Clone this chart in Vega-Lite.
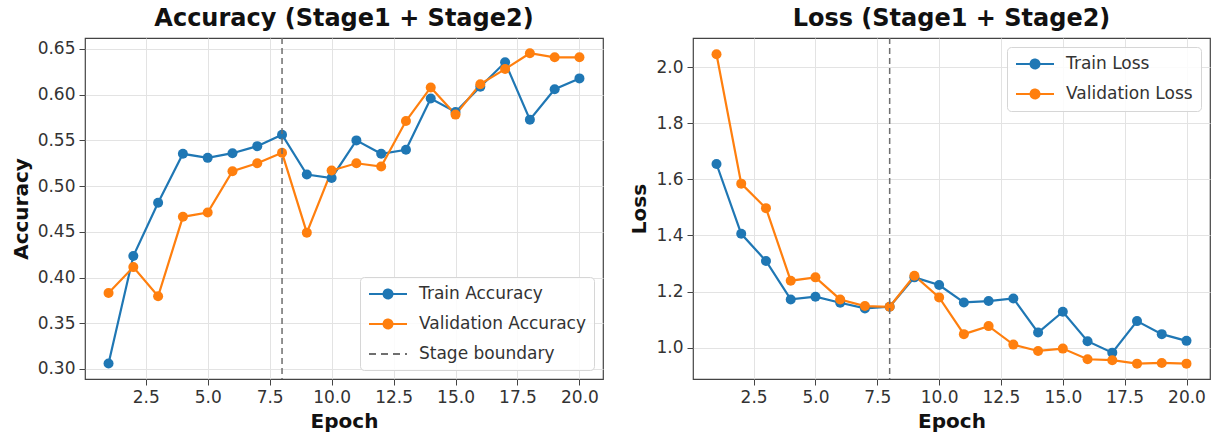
{
  "$schema": "https://vega.github.io/schema/vega-lite/v6.json",
  "padding": {"left": 10, "top": 6, "right": 0, "bottom": 0},
  "background": "white",
  "spacing": 25,
  "config": {
    "font": "DejaVu Sans",
    "view": {"stroke": "#444", "strokeWidth": 1.2},
    "axis": {"grid": true, "gridColor": "#e3e3e3", "gridWidth": 1, "domain": false, "ticks": true, "tickColor": "#444", "tickSize": 6, "tickWidth": 1, "labelFontSize": 17, "labelColor": "#333", "labelPadding": 4, "titleFontSize": 20, "titleFontWeight": "bold", "titleColor": "#111", "titlePadding": 6, "labelFont": "DejaVu Sans", "titleFont": "DejaVu Sans"},
    "title": {"fontSize": 24, "fontWeight": "bold", "color": "#111", "offset": 6, "font": "DejaVu Sans", "anchor": "middle"},
    "legend": {"title": null, "labelFontSize": 17, "labelColor": "#333", "labelFont": "DejaVu Sans", "labelOffset": 33, "rowPadding": 12, "padding": 8, "strokeColor": "#d6d6d6", "fillColor": "rgba(255,255,255,0.85)", "cornerRadius": 4, "labelLimit": 400, "symbolSize": 256, "symbolStrokeWidth": 2,
      "symbolType": "M-1,0L3.75,0M0.815,0A0.56,0.56,0,1,0,1.935,0A0.56,0.56,0,1,0,0.815,0M1.005,0A0.37,0.37,0,1,0,1.745,0A0.37,0.37,0,1,0,1.005,0M1.195,0A0.18,0.18,0,1,0,1.555,0A0.18,0.18,0,1,0,1.195,0"}
  },
  "datasets": {
    "acc": [
      {"epoch": 1, "series": "Train Accuracy", "value": 0.306},
      {"epoch": 2, "series": "Train Accuracy", "value": 0.4235},
      {"epoch": 3, "series": "Train Accuracy", "value": 0.4818},
      {"epoch": 4, "series": "Train Accuracy", "value": 0.5353},
      {"epoch": 5, "series": "Train Accuracy", "value": 0.5309},
      {"epoch": 6, "series": "Train Accuracy", "value": 0.536},
      {"epoch": 7, "series": "Train Accuracy", "value": 0.5437},
      {"epoch": 8, "series": "Train Accuracy", "value": 0.5562},
      {"epoch": 9, "series": "Train Accuracy", "value": 0.5126},
      {"epoch": 10, "series": "Train Accuracy", "value": 0.5089},
      {"epoch": 11, "series": "Train Accuracy", "value": 0.55},
      {"epoch": 12, "series": "Train Accuracy", "value": 0.5353},
      {"epoch": 13, "series": "Train Accuracy", "value": 0.5397},
      {"epoch": 14, "series": "Train Accuracy", "value": 0.5958},
      {"epoch": 15, "series": "Train Accuracy", "value": 0.5811},
      {"epoch": 16, "series": "Train Accuracy", "value": 0.6086},
      {"epoch": 17, "series": "Train Accuracy", "value": 0.6354},
      {"epoch": 18, "series": "Train Accuracy", "value": 0.5727},
      {"epoch": 19, "series": "Train Accuracy", "value": 0.606},
      {"epoch": 20, "series": "Train Accuracy", "value": 0.6178},
      {"epoch": 1, "series": "Validation Accuracy", "value": 0.3831},
      {"epoch": 2, "series": "Validation Accuracy", "value": 0.4114},
      {"epoch": 3, "series": "Validation Accuracy", "value": 0.3795},
      {"epoch": 4, "series": "Validation Accuracy", "value": 0.4664},
      {"epoch": 5, "series": "Validation Accuracy", "value": 0.4711},
      {"epoch": 6, "series": "Validation Accuracy", "value": 0.5162},
      {"epoch": 7, "series": "Validation Accuracy", "value": 0.525},
      {"epoch": 8, "series": "Validation Accuracy", "value": 0.5364},
      {"epoch": 9, "series": "Validation Accuracy", "value": 0.4491},
      {"epoch": 10, "series": "Validation Accuracy", "value": 0.517},
      {"epoch": 11, "series": "Validation Accuracy", "value": 0.525},
      {"epoch": 12, "series": "Validation Accuracy", "value": 0.5214},
      {"epoch": 13, "series": "Validation Accuracy", "value": 0.5712},
      {"epoch": 14, "series": "Validation Accuracy", "value": 0.6079},
      {"epoch": 15, "series": "Validation Accuracy", "value": 0.5782},
      {"epoch": 16, "series": "Validation Accuracy", "value": 0.6115},
      {"epoch": 17, "series": "Validation Accuracy", "value": 0.628},
      {"epoch": 18, "series": "Validation Accuracy", "value": 0.6453},
      {"epoch": 19, "series": "Validation Accuracy", "value": 0.6409},
      {"epoch": 20, "series": "Validation Accuracy", "value": 0.6409}
    ],
    "loss": [
      {"epoch": 1, "series": "Train Loss", "value": 1.6547},
      {"epoch": 2, "series": "Train Loss", "value": 1.4057},
      {"epoch": 3, "series": "Train Loss", "value": 1.309},
      {"epoch": 4, "series": "Train Loss", "value": 1.1717},
      {"epoch": 5, "series": "Train Loss", "value": 1.1814},
      {"epoch": 6, "series": "Train Loss", "value": 1.16},
      {"epoch": 7, "series": "Train Loss", "value": 1.1397},
      {"epoch": 8, "series": "Train Loss", "value": 1.1456},
      {"epoch": 9, "series": "Train Loss", "value": 1.2505},
      {"epoch": 10, "series": "Train Loss", "value": 1.2232},
      {"epoch": 11, "series": "Train Loss", "value": 1.161},
      {"epoch": 12, "series": "Train Loss", "value": 1.166},
      {"epoch": 13, "series": "Train Loss", "value": 1.1753},
      {"epoch": 14, "series": "Train Loss", "value": 1.0537},
      {"epoch": 15, "series": "Train Loss", "value": 1.1277},
      {"epoch": 16, "series": "Train Loss", "value": 1.0229},
      {"epoch": 17, "series": "Train Loss", "value": 0.982},
      {"epoch": 18, "series": "Train Loss", "value": 1.0945},
      {"epoch": 19, "series": "Train Loss", "value": 1.048},
      {"epoch": 20, "series": "Train Loss", "value": 1.024},
      {"epoch": 1, "series": "Validation Loss", "value": 2.046},
      {"epoch": 2, "series": "Validation Loss", "value": 1.5846},
      {"epoch": 3, "series": "Validation Loss", "value": 1.4973},
      {"epoch": 4, "series": "Validation Loss", "value": 1.2386},
      {"epoch": 5, "series": "Validation Loss", "value": 1.2505},
      {"epoch": 6, "series": "Validation Loss", "value": 1.1717},
      {"epoch": 7, "series": "Validation Loss", "value": 1.148},
      {"epoch": 8, "series": "Validation Loss", "value": 1.1456},
      {"epoch": 9, "series": "Validation Loss", "value": 1.2565},
      {"epoch": 10, "series": "Validation Loss", "value": 1.179},
      {"epoch": 11, "series": "Validation Loss", "value": 1.048},
      {"epoch": 12, "series": "Validation Loss", "value": 1.0766},
      {"epoch": 13, "series": "Validation Loss", "value": 1.0107},
      {"epoch": 14, "series": "Validation Loss", "value": 0.988},
      {"epoch": 15, "series": "Validation Loss", "value": 0.9964},
      {"epoch": 16, "series": "Validation Loss", "value": 0.9585},
      {"epoch": 17, "series": "Validation Loss", "value": 0.955},
      {"epoch": 18, "series": "Validation Loss", "value": 0.9428},
      {"epoch": 19, "series": "Validation Loss", "value": 0.9453},
      {"epoch": 20, "series": "Validation Loss", "value": 0.9428}
    ]
  },
  "hconcat": [
    {
      "width": 518,
      "height": 341,
      "title": "Accuracy (Stage1 + Stage2)",
      "layer": [
        {
          "data": {"name": "acc"},
          "mark": {"type": "line", "strokeWidth": 2.2, "point": {"filled": true, "size": 100}},
          "encoding": {
            "x": {"field": "epoch", "type": "quantitative", "scale": {"domain": [0.05, 20.95], "nice": false, "zero": false}, "axis": {"values": [2.5, 5, 7.5, 10, 12.5, 15, 17.5, 20], "format": ".1f", "title": "Epoch", "labelFlush": false}},
            "y": {"field": "value", "type": "quantitative", "scale": {"domain": [0.289, 0.662], "nice": false, "zero": false}, "axis": {"values": [0.3, 0.35, 0.4, 0.45, 0.5, 0.55, 0.6, 0.65], "format": ".2f", "title": "Accuracy", "labelFlush": false}},
            "color": {"field": "series", "type": "nominal", "scale": {"domain": ["Train Accuracy", "Validation Accuracy", "Stage boundary"], "range": ["#1f77b4", "#ff7f0e", "#6f6f6f"]},
              "legend": {"orient": "bottom-right", "offset": 9,
                "encode": {"symbols": {"update": {
                  "shape": [{"test": "datum.value === 'Stage boundary'", "value": "M-1,0L3.75,0"}, {"value": "M-1,0L3.75,0M0.815,0A0.56,0.56,0,1,0,1.935,0A0.56,0.56,0,1,0,0.815,0M1.005,0A0.37,0.37,0,1,0,1.745,0A0.37,0.37,0,1,0,1.005,0M1.195,0A0.18,0.18,0,1,0,1.555,0A0.18,0.18,0,1,0,1.195,0"}],
                  "strokeDash": [{"test": "datum.value === 'Stage boundary'", "value": [7, 5]}, {"value": [1, 0]}],
                  "strokeWidth": {"value": 2}
                }}}}}
          }
        },
        {
          "data": {"values": [{"epoch": 8, "series": "Stage boundary"}]},
          "mark": {"type": "rule", "strokeDash": [6, 4], "strokeWidth": 1.5},
          "encoding": {
            "x": {"field": "epoch", "type": "quantitative"},
            "color": {"field": "series", "type": "nominal"}
          }
        }
      ]
    },
    {
      "width": 517,
      "height": 341,
      "title": "Loss (Stage1 + Stage2)",
      "layer": [
        {
          "data": {"name": "loss"},
          "mark": {"type": "line", "strokeWidth": 2.2, "point": {"filled": true, "size": 100}},
          "encoding": {
            "x": {"field": "epoch", "type": "quantitative", "scale": {"domain": [0.05, 20.95], "nice": false, "zero": false}, "axis": {"values": [2.5, 5, 7.5, 10, 12.5, 15, 17.5, 20], "format": ".1f", "title": "Epoch", "labelFlush": false}},
            "y": {"field": "value", "type": "quantitative", "scale": {"domain": [0.888, 2.104], "nice": false, "zero": false}, "axis": {"values": [1.0, 1.2, 1.4, 1.6, 1.8, 2.0], "format": ".1f", "title": "Loss", "labelFlush": false}},
            "color": {"field": "series", "type": "nominal", "scale": {"domain": ["Train Loss", "Validation Loss"], "range": ["#1f77b4", "#ff7f0e"]},
              "legend": {"orient": "top-right", "offset": 9,
                "encode": {"symbols": {"update": {"strokeWidth": {"value": 2}, "strokeDash": {"value": [1, 0]}}}}}}
          }
        },
        {
          "data": {"values": [{"epoch": 8}]},
          "mark": {"type": "rule", "strokeDash": [6, 4], "strokeWidth": 1.5, "color": "#6f6f6f"},
          "encoding": {
            "x": {"field": "epoch", "type": "quantitative"}
          }
        }
      ]
    }
  ],
  "resolve": {"scale": {"color": "independent"}, "legend": {"color": "independent"}}
}
